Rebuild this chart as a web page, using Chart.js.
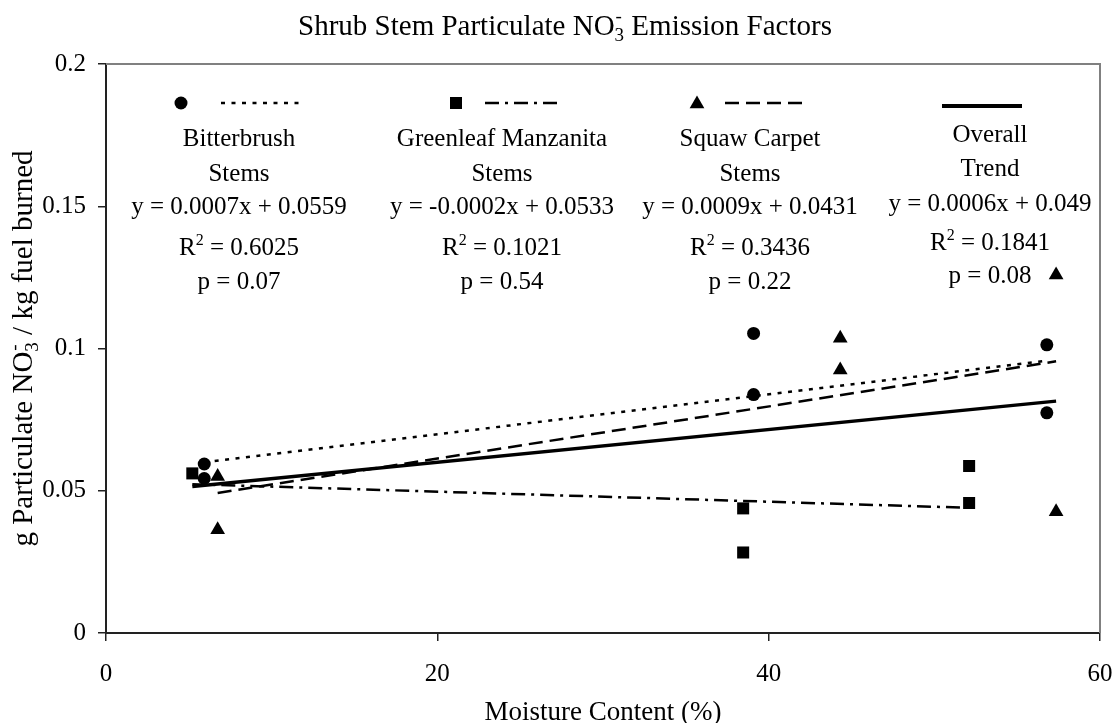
<!DOCTYPE html>
<html><head><meta charset="utf-8">
<script src="https://cdn.jsdelivr.net/npm/chart.js@4.4.1/dist/chart.umd.min.js"></script>
<style>html,body{margin:0;padding:0;background:#fff;}#wrap{width:1115px;height:723px;}</style>
</head><body><div id="wrap"><canvas id="c" width="1115" height="723"></canvas></div>
<script>
// ---- data ----
const bitterX = [5.93, 5.93, 39.09, 39.09, 56.79, 56.79];
const bitterY = [0.0594, 0.0543, 0.1053, 0.0838, 0.1013, 0.0774];
const manzX = [5.21, 38.46, 38.46, 52.1, 52.1];
const manzY = [0.0561, 0.0438, 0.0283, 0.0587, 0.0457];
const squawX = [6.74, 6.74, 44.32, 44.32, 57.35, 57.35];
const squawY = [0.0550, 0.0363, 0.1036, 0.0924, 0.1258, 0.0426];
const bitterTrendX = [5.93, 56.8];
const bitterTrendY = [0.0600, 0.0957];
const manzTrendX = [5.21, 52.1];
const manzTrendY = [0.0523, 0.0440];
const squawTrendX = [6.74, 57.35];
const squawTrendY = [0.0492, 0.0955];
const overallTrendX = [5.21, 57.35];
const overallTrendY = [0.0515, 0.0815];
const xTickValues = [0, 20, 40, 60];
const xTickLabels = ['0', '20', '40', '60'];
const yTickValues = [0, 0.05, 0.1, 0.15, 0.2];
const yTickLabels = ['0', '0.05', '0.1', '0.15', '0.2'];
const legendNames = [['Bitterbrush', 'Stems'], ['Greenleaf Manzanita', 'Stems'], ['Squaw Carpet', 'Stems'], ['Overall', 'Trend']];
const legendEq = ['y = 0.0007x + 0.0559', 'y = -0.0002x + 0.0533', 'y = 0.0009x + 0.0431', 'y = 0.0006x + 0.049'];
const legendR2 = ['0.6025', '0.1021', '0.3436', '0.1841'];
const legendP = ['0.07', '0.54', '0.22', '0.08'];

const FAM = '"Liberation Serif", "Times New Roman", serif';
const pts = (xs, ys) => xs.map((x, i) => ({x: x, y: ys[i]}));

function richWidth(ctx, segs, size) {
  let w = 0;
  segs.forEach(sg => {
    if (sg.sub !== undefined) {
      ctx.font = Math.round(size * 0.65) + 'px ' + FAM;
      w += Math.max(ctx.measureText(sg.sub).width, ctx.measureText(sg.sup).width);
    } else {
      ctx.font = Math.round(size * (sg.s || 1)) + 'px ' + FAM;
      w += ctx.measureText(sg.t).width;
    }
  });
  return w;
}
function rich(ctx, segs, cx, cy, size) {
  const w = richWidth(ctx, segs, size);
  let x = cx - w / 2;
  const base = cy + 0.33 * size;
  ctx.textBaseline = 'alphabetic';
  ctx.textAlign = 'left';
  ctx.fillStyle = '#000';
  segs.forEach(sg => {
    if (sg.sub !== undefined) {
      ctx.font = Math.round(size * 0.65) + 'px ' + FAM;
      ctx.fillText(sg.sub, x, base + 0.22 * size);
      ctx.fillText(sg.sup, x + 1, base - 0.42 * size);
      x += Math.max(ctx.measureText(sg.sub).width, ctx.measureText(sg.sup).width);
    } else {
      ctx.font = Math.round(size * (sg.s || 1)) + 'px ' + FAM;
      ctx.fillText(sg.t, x, base + (sg.dy || 0) * size);
      x += ctx.measureText(sg.t).width;
    }
  });
}

const decor = {
  id: 'decor',
  afterDraw(chart) {
    const ctx = chart.ctx;
    const a = chart.chartArea;
    ctx.save();
    ctx.strokeStyle = '#808080';
    ctx.lineWidth = 2;
    ctx.beginPath();
    ctx.moveTo(a.left, a.top); ctx.lineTo(a.right, a.top); ctx.lineTo(a.right, a.bottom);
    ctx.stroke();

    rich(ctx, [{t: 'Shrub Stem Particulate NO'}, {sub: '3', sup: '-'}, {t: ' Emission Factors'}], 565, 25, 29);
    rich(ctx, [{t: 'Moisture Content (%)'}], (a.left + a.right) / 2, 711, 27);
    ctx.save();
    ctx.translate(22.5, (a.top + a.bottom) / 2);
    ctx.rotate(-Math.PI / 2);
    rich(ctx, [{t: 'g Particulate NO'}, {sub: '3', sup: '-'}, {t: ' / kg fuel burned'}], 0, 0, 29);
    ctx.restore();

    const colX = [239, 502, 750, 990];
    const rowsA = [138, 173, 206, 247, 281];
    const rowsB = [134, 168, 203, 242, 275];
    const LS = 25;
    for (let i = 0; i < 4; i++) {
      const rows = i === 3 ? rowsB : rowsA;
      rich(ctx, [{t: legendNames[i][0]}], colX[i], rows[0], LS);
      rich(ctx, [{t: legendNames[i][1]}], colX[i], rows[1], LS);
      rich(ctx, [{t: legendEq[i]}], colX[i], rows[2], LS);
      rich(ctx, [{t: 'R'}, {t: '2', s: 0.65, dy: -0.42}, {t: ' = ' + legendR2[i]}], colX[i], rows[3], LS);
      rich(ctx, [{t: 'p = ' + legendP[i]}], colX[i], rows[4], LS);
    }
    ctx.fillStyle = '#000'; ctx.strokeStyle = '#000';
    Chart.helpers.drawPoint(ctx, {pointStyle: 'circle', radius: 6.5, borderWidth: 0}, 181, 103);
    Chart.helpers.drawPoint(ctx, {pointStyle: 'rect', radius: 8.5, borderWidth: 0}, 456, 103);
    Chart.helpers.drawPoint(ctx, {pointStyle: 'triangle', radius: 8.5, borderWidth: 0}, 697, 104);
    const seg = (x1, x2, y, w, dash) => {
      ctx.beginPath(); ctx.lineWidth = w; ctx.setLineDash(dash);
      ctx.moveTo(x1, y); ctx.lineTo(x2, y); ctx.stroke();
    };
    seg(221, 299, 103, 2.5, [4, 6.5]);
    seg(485, 560, 103, 2.5, [14, 6, 3, 6]);
    seg(725, 806, 103, 2.5, [14, 7]);
    seg(942, 1022, 106, 4, []);
    ctx.restore();
  }
};

const trendBase = {type: 'line', showLine: true, pointRadius: 0, pointHoverRadius: 0, fill: false, borderColor: '#000', tension: 0};

new Chart(document.getElementById('c'), {
  type: 'scatter',
  data: {
    datasets: [
      Object.assign({}, trendBase, {label: 'Bitterbrush trend', data: pts(bitterTrendX, bitterTrendY), borderWidth: 2.5, borderDash: [4, 6.5]}),
      Object.assign({}, trendBase, {label: 'Manzanita trend', data: pts(manzTrendX, manzTrendY), borderWidth: 2.5, borderDash: [14, 6, 3, 6]}),
      Object.assign({}, trendBase, {label: 'Squaw trend', data: pts(squawTrendX, squawTrendY), borderWidth: 2.5, borderDash: [14, 7]}),
      Object.assign({}, trendBase, {label: 'Overall trend', data: pts(overallTrendX, overallTrendY), borderWidth: 3.5}),
      {label: 'Bitterbrush Stems', data: pts(bitterX, bitterY), pointStyle: 'circle', pointRadius: 6.5, backgroundColor: '#000', borderColor: '#000', borderWidth: 0},
      {label: 'Greenleaf Manzanita Stems', data: pts(manzX, manzY), pointStyle: 'rect', pointRadius: 8.5, backgroundColor: '#000', borderColor: '#000', borderWidth: 0},
      {label: 'Squaw Carpet Stems', data: pts(squawX, squawY), pointStyle: 'triangle', pointRadius: 8.5, backgroundColor: '#000', borderColor: '#000', borderWidth: 0}
    ]
  },
  options: {
    responsive: false,
    animation: false,
    devicePixelRatio: 1,
    layout: {padding: {top: 64, right: 0, bottom: 0, left: 0}},
    plugins: {legend: {display: false}, tooltip: {enabled: false}, title: {display: false}},
    scales: {
      x: {
        type: 'linear', min: 0, max: 60,
        afterFit: s => { s.height = 90; s.paddingRight = 15; s.paddingLeft = 0; },
        afterBuildTicks: s => { s.ticks = xTickValues.map(v => ({value: v})); },
        ticks: {callback: (v) => xTickLabels[xTickValues.indexOf(v)], color: '#000', font: {family: FAM, size: 25}, padding: 18, maxRotation: 0},
        grid: {drawOnChartArea: false, drawTicks: true, tickLength: 8, color: '#222', lineWidth: 1.5},
        border: {color: '#222', width: 2}
      },
      y: {
        type: 'linear', min: 0, max: 0.2,
        afterFit: s => { s.width = 106; },
        afterBuildTicks: s => { s.ticks = yTickValues.map(v => ({value: v})); },
        ticks: {callback: (v) => yTickLabels[yTickValues.indexOf(v)], color: '#000', font: {family: FAM, size: 25}, padding: 12},
        grid: {drawOnChartArea: false, drawTicks: true, tickLength: 8, color: '#222', lineWidth: 1.5},
        border: {color: '#222', width: 2}
      }
    }
  },
  plugins: [decor]
});
</script></body></html>
